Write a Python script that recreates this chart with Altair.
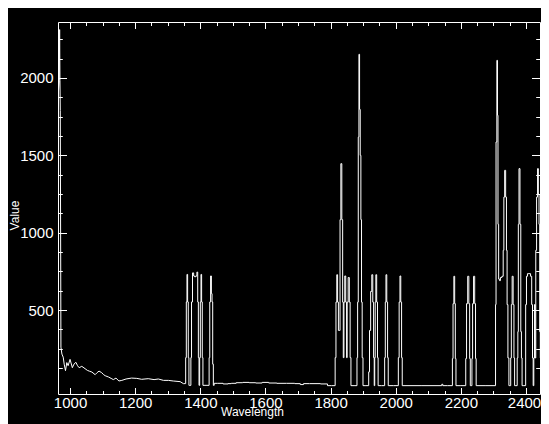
import altair as alt
import pandas as pd

# Smooth (linearly drawn) part of the spectrum
wl_smooth = [
    964, 967, 968, 969, 970, 972, 975, 979, 982, 986, 990, 994, 1000, 1007, 1012, 1018, 1023,
    1028, 1036, 1046, 1053, 1060, 1067, 1077, 1083, 1089, 1097, 1103, 1108, 1118, 1126, 1133,
    1141, 1150, 1159, 1172, 1189, 1205, 1220, 1240, 1258, 1271, 1287, 1302, 1317, 1338, 1348,
    1354,
]
val_smooth = [
    1900, 1985, 2313, 1985, 1790, 260, 215, 195, 150, 108, 160, 140, 181, 127, 150, 162, 140,
    127, 136, 121, 110, 104, 99, 82, 95, 105, 95, 82, 75, 67, 58, 50,
    60, 41, 45, 54, 60, 58, 52, 56, 50, 54, 45, 45, 41, 37, 24,
    24,
]

# Stepped part of the spectrum (spike clusters)
wl_step = [
    1354, 1356, 1358, 1360, 1362, 1364, 1366, 1370, 1372, 1374, 1378, 1381, 1384, 1388, 1391,
    1393, 1395, 1397, 1399, 1401, 1403, 1405, 1407, 1409, 1426, 1428, 1430, 1433, 1435, 1437,
    1439, 1441, 1444, 1460, 1480, 1490, 1500, 1520, 1540, 1560, 1580, 1600, 1620, 1650, 1680,
    1700, 1714, 1720, 1750, 1788, 1793, 1813, 1815, 1818, 1820, 1823, 1825, 1828, 1830, 1833,
    1836, 1838, 1840, 1842, 1845, 1848, 1850, 1852, 1856, 1859, 1861, 1864, 1880, 1882, 1884,
    1886, 1888, 1890, 1892, 1894, 1896, 1898, 1901, 1916, 1918, 1921, 1925, 1928, 1931, 1933,
    1935, 1936, 1938, 1940, 1943, 1945, 1947, 1965, 1967, 1969, 1971, 1974, 1976, 1978, 2007,
    2009, 2012, 2014, 2017, 2019, 2021, 2140, 2143, 2146, 2173, 2175, 2177, 2180, 2182, 2184,
    2186, 2214, 2216, 2219, 2223, 2226, 2228, 2230, 2233, 2235, 2237, 2241, 2244, 2246, 2248,
    2306, 2307, 2309, 2312, 2313, 2315, 2317, 2320, 2323, 2329, 2331, 2333, 2336, 2339, 2341,
    2343, 2346, 2349, 2352, 2354, 2356, 2359, 2362, 2364, 2366, 2372, 2374, 2376, 2377, 2380,
    2383, 2385, 2387, 2389, 2398, 2400, 2403, 2406, 2412, 2416, 2419, 2421, 2423, 2425, 2427,
    2429, 2431, 2434, 2437, 2439, 2441, 2443, 2445, 2447, 2451,
]
val_step = [
    24, 192, 552, 730, 552, 192, 13, 13, 192, 552, 740, 720, 715, 720, 745,
    552, 192, 13, 192, 552, 730, 552, 192, 13, 13, 192, 552, 720, 606, 552,
    150, 13, 26, 26, 22, 24, 26, 30, 32, 30, 28, 32, 28, 26, 26,
    24, 18, 24, 24, 22, 11, 11, 192, 551, 728, 551, 368, 368, 1084, 1446,
    1084, 551, 192, 551, 720, 551, 192, 551, 710, 551, 192, 11, 11, 192, 551,
    1618, 2153, 1797, 1500, 1084, 551, 192, 11, 11, 100, 368, 620, 728, 551, 192,
    11, 192, 551, 728, 551, 192, 11, 11, 192, 551, 728, 551, 192, 11, 11,
    192, 551, 720, 551, 192, 11, 11, 20, 11, 11, 186, 541, 718, 541, 186,
    11, 11, 186, 541, 718, 541, 186, 11, 11, 186, 541, 718, 541, 186, 11,
    11, 535, 1586, 2114, 1759, 1054, 700, 690, 710, 718, 886, 1230, 1403, 1230, 886,
    535, 190, 11, 11, 190, 535, 718, 535, 190, 11, 11, 190, 360, 1054, 1414,
    1054, 360, 190, 11, 11, 535, 718, 735, 735, 718, 535, 190, 11, 190, 535,
    190, 886, 1230, 1414, 1250, 1054, 360, 190, 360, 190,
]

x_domain = [963, 2443]
y_domain = [-43, 2362]
x_major = [1000, 1200, 1400, 1600, 1800, 2000, 2200, 2400]
x_minor = [1000, 1050, 1100, 1150, 1200, 1250, 1300, 1350, 1400, 1450, 1500, 1550, 1600,
           1650, 1700, 1750, 1800, 1850, 1900, 1950, 2000, 2050, 2100, 2150, 2200, 2250,
           2300, 2350, 2400]
y_major = [500, 1000, 1500, 2000]
y_minor = [125, 250, 375, 500, 625, 750, 875, 1000, 1125, 1250, 1375, 1500, 1625, 1750,
           1875, 2000, 2125, 2250]

df_smooth = pd.DataFrame({"Wavelength": wl_smooth, "Value": val_smooth})
df_step = pd.DataFrame({"Wavelength": wl_step, "Value": val_step})

FONT = "Liberation Sans"
XT, XM = 6.5, 3.5
YT, YM = 8.5, 4.3

xs = alt.Scale(domain=x_domain, nice=False, zero=False)
ys = alt.Scale(domain=y_domain, nice=False, zero=False)


def tick_axis(orient, vals, size):
    return alt.Axis(orient=orient, values=vals, tickSize=size, offset=-size, domain=False,
                    grid=False, labels=False, ticks=True, tickColor="white", tickWidth=1,
                    title=None)


def layer(data, x_axis, y_axis, opacity, interp):
    return alt.Chart(data).mark_line(color="white", strokeWidth=1, strokeOpacity=opacity,
                                     interpolate=interp, clip=True).encode(
        x=alt.X("Wavelength:Q", scale=xs, axis=x_axis),
        y=alt.Y("Value:Q", scale=ys, axis=y_axis),
    )


x_main = alt.Axis(orient="bottom", values=x_major, tickSize=XT, offset=-XT, domain=False,
                  grid=False, format="d", labelFont=FONT, labelFontSize=15, labelColor="white",
                  labelPadding=1, labelFlush=False, labelOverlap=False, tickColor="white",
                  labelOffset={"condition": {"test": "datum.value == 2400", "value": -2},
                               "value": 0},
                  tickWidth=1, title="Wavelength", titleFont=FONT, titleFontSize=12,
                  titleFontWeight="normal", titleColor="white", titleBaseline="middle",
                  titleAlign="center", titleX=194, titleY=24)
y_main = alt.Axis(orient="left", values=y_major, tickSize=YT, offset=-YT, domain=False,
                  grid=False, format="d", labelFont=FONT, labelFontSize=15, labelColor="white",
                  labelPadding=5, labelFlush=False, labelOverlap=False, tickColor="white",
                  tickWidth=1, title="Value", titleFont=FONT, titleFontSize=12,
                  titleFontWeight="normal", titleColor="white", titleAngle=270,
                  titleBaseline="middle", titleAlign="center", titleX=-52.5, titleY=193)

chart = alt.layer(
    layer(df_smooth, x_main, y_main, 1, "linear"),
    layer(df_step, tick_axis("bottom", x_minor, XM), tick_axis("left", y_minor, YM), 1, "step"),
    layer(df_step, tick_axis("top", x_major, XT), tick_axis("right", y_major, YT), 0, "step"),
    layer(df_step, tick_axis("top", x_minor, XM), tick_axis("right", y_minor, YM), 0, "step"),
).resolve_scale(x="independent", y="independent").properties(
    width=482, height=372,
    padding={"left": 50, "top": 14, "right": 1, "bottom": 30},
    autosize=alt.AutoSizeParams(type="none"),
    background="black",
).configure_view(stroke="white", strokeWidth=1)

chart.save("out.html", embed_options={"renderer": "svg", "actions": False})
